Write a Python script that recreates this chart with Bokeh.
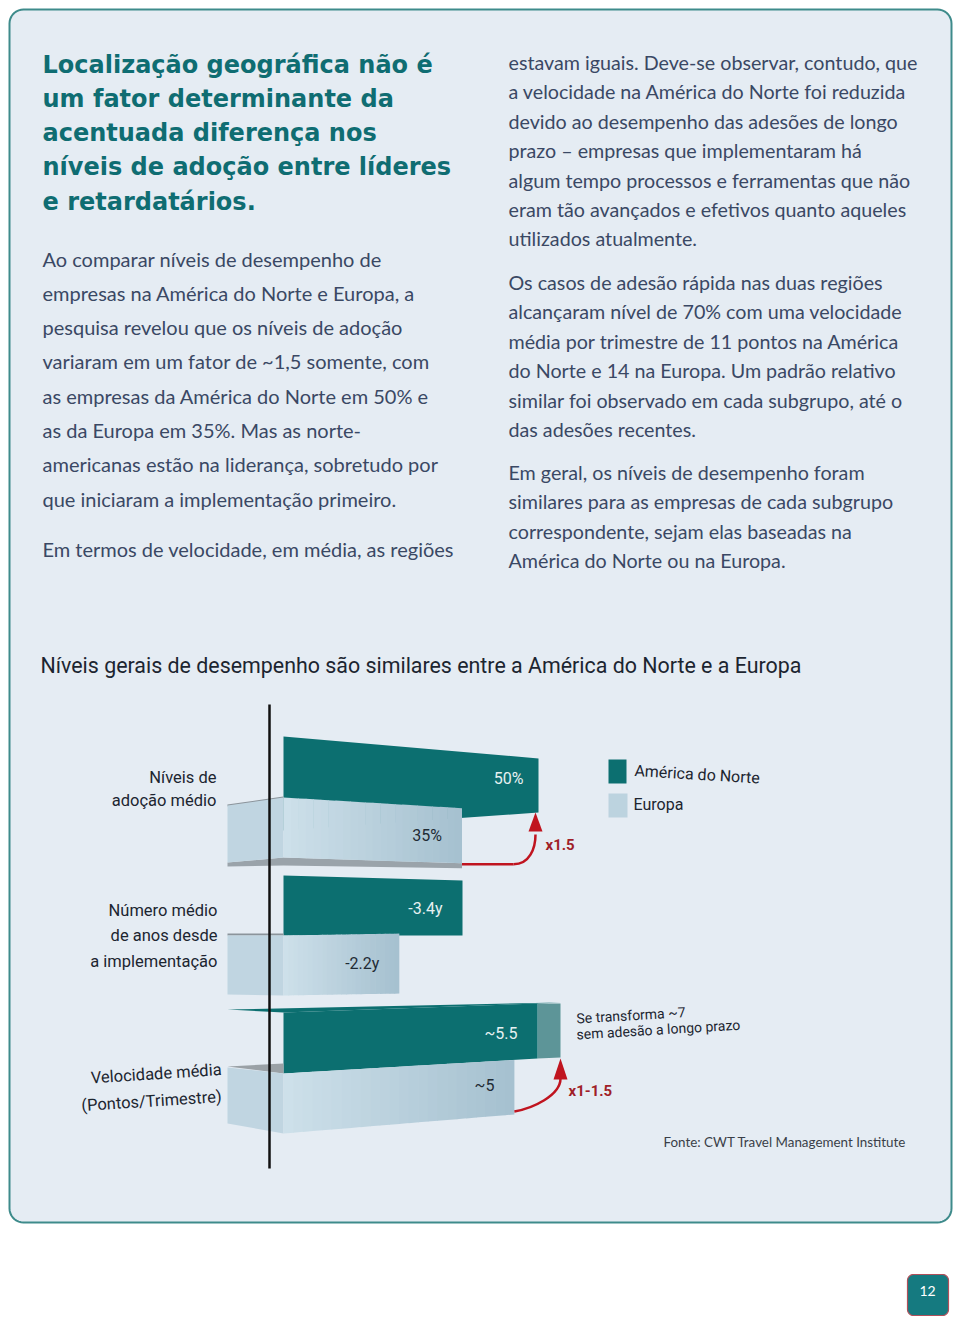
import numpy as np
from bokeh.plotting import figure
from bokeh.models import ColumnDataSource, Range1d
from bokeh.core.properties import value
from bokeh.embed import file_html
from bokeh.resources import INLINE

# ---------------- data ----------------
title_lines = ["Localização geográfica não é", "um fator determinante da",
               "acentuada diferença nos", "níveis de adoção entre líderes",
               "e retardatários."]
left_lines = ["Ao comparar níveis de desempenho de",
              "empresas na América do Norte e Europa, a",
              "pesquisa revelou que os níveis de adoção",
              "variaram em um fator de ~1,5 somente, com",
              "as empresas da América do Norte em 50% e",
              "as da Europa em 35%. Mas as norte-",
              "americanas estão na liderança, sobretudo por",
              "que iniciaram a implementação primeiro.",
              "Em termos de velocidade, em média, as regiões"]
right_lines = ["estavam iguais. Deve-se observar, contudo, que",
               "a velocidade na América do Norte foi reduzida",
               "devido ao desempenho das adesões de longo",
               "prazo –   empresas que implementaram há",
               "algum tempo processos e ferramentas que não",
               "eram tão avançados e efetivos quanto aqueles",
               "utilizados atualmente.",
               "Os casos de adesão rápida nas duas regiões",
               "alcançaram nível de 70% com uma velocidade",
               "média por trimestre de 11 pontos na América",
               "do Norte e 14 na Europa. Um padrão relativo",
               "similar foi observado em cada subgrupo, até o",
               "das adesões recentes.",
               "Em geral, os níveis de desempenho foram",
               "similares para as empresas de cada subgrupo",
               "correspondente, sejam elas baseadas na",
               "América do Norte ou na Europa."]
chart_title = "Níveis gerais de desempenho são similares entre a América do Norte e a Europa"
categories = [["Níveis de", "adoção médio"],
              ["Número médio", "de anos desde", "a implementação"],
              ["Velocidade média", "(Pontos/Trimestre)"]]
na_values = [50, 3.4, 5.5]
eu_values = [35, 2.2, 5]
na_labels = ["50%", "-3.4y", "~5.5"]
eu_labels = ["35%", "-2.2y", "~5"]
ratio_labels = ["x1.5", "", "x1-1.5"]
legend_labels = ["América do Norte", "Europa"]
note_lines = ["Se transforma ~7", "sem adesão a longo prazo"]
source_text = "Fonte: CWT Travel Management Institute"
page_number = "12"

# ---------------- styles ----------------
TEAL = "#0c6f70"
TEAL_EXT = "#5d9598"
EU_SIDE = "#c0d5e1"
EU_L = np.array([0xcd, 0xe0, 0xea])
EU_R = np.array([0xa6, 0xc1, 0xd0])
SHADOW = "#9aa3aa"
RED = "#c0141f"
BODY = "#3a4864"
TITLE = "#0f6d72"
DARK = "#1c2530"

W, H = 958, 1316
p = figure(width=W, height=H, output_backend="svg", toolbar_location=None,
           x_axis_type=None, y_axis_type=None, min_border=0,
           x_range=Range1d(0, W), y_range=Range1d(H, 0))
p.outline_line_color = None
p.background_fill_color = "white"
p.border_fill_color = "white"
p.xgrid.visible = False
p.ygrid.visible = False


def rrect(x0, y0, x1, y1, r, n=10):
    xs, ys = [], []
    corners = [(x1 - r, y0 + r, -np.pi / 2, 0), (x1 - r, y1 - r, 0, np.pi / 2),
               (x0 + r, y1 - r, np.pi / 2, np.pi), (x0 + r, y0 + r, np.pi, 1.5 * np.pi)]
    for cx, cy, a0, a1 in corners:
        t = np.linspace(a0, a1, n)
        xs += list(cx + r * np.cos(t))
        ys += list(cy + r * np.sin(t))
    return xs, ys


# panel
px, py = rrect(9, 9, 951, 1222, 14)
p.patch(px, py, fill_color="#e5ecf3", line_color="#3e8b8b", line_width=2)
# page number box
bx, by = rrect(907, 1274, 948, 1315, 6)
p.patch(bx, by, fill_color="#157a80", line_color="#b0505a", line_width=1.2)


def txt(xs, ys, texts, font, size, color, align="left", style="normal", angle=0.0):
    src = ColumnDataSource(dict(x=xs, y=ys, text=texts))
    p.text(x="x", y="y", text="text", source=src, text_font=value(font),
           text_font_size=value(size), text_color=color, text_align=align,
           text_baseline="middle", text_font_style=style, angle=angle)


txt([927], [1290], [page_number], "Lato", "14px", "white", align="center")

# headline
txt([42] * len(title_lines), [64 + 34.3 * i for i in range(len(title_lines))],
    title_lines, "DejaVu Sans", "24px", TITLE, style="bold")

# left column
ly = [258 + 34.3 * i for i in range(8)] + [548]
txt([42] * len(left_lines), ly, left_lines, "Lato", "20px", BODY)

# right column
ry = [62 + 29.4 * i for i in range(7)] + [282 + 29.4 * i for i in range(6)] + \
     [472 + 29.4 * i for i in range(4)]
txt([508] * len(right_lines), ry, right_lines, "Lato", "19.7px", BODY)

# chart title
txt([40], [665], [chart_title], "Roboto", "21.4px", DARK)

# ---------------- chart ----------------
X0 = 283
SIDE_X = 227
row_len = [255, 179, 254]
# perspective lines: (y at X0, slope per px)
geo = [
    dict(na_top=(736, 0.0863), na_bot=(830, -0.0706), eu_top=(797, 0.0598),
         eu_bot=(857, 0.0326), side_top=805, side_bot=862),
    dict(na_top=(875, 0.028), na_bot=(935, 0.0), eu_top=(935, -0.0168),
         eu_bot=(995, -0.0168), side_top=935, side_bot=994),
    dict(na_top=(1012, -0.0354), na_bot=(1073, -0.059), eu_top=(1073, -0.059),
         eu_bot=(1133, -0.0827), side_top=1067, side_bot=1123),
]


def ln(l, x):
    return l[0] + l[1] * (x - X0)


for i in range(3):
    g = geo[i]
    mx = max(na_values[i], eu_values[i])
    xa = X0 + row_len[i] * na_values[i] / mx
    xe = X0 + row_len[i] * eu_values[i] / mx

    # North America bar
    if i == 2:
        ext = 23
        p.patch([SIDE_X, xa + ext, xa, X0], [1009, 1002, ln(g["na_top"], xa), ln(g["na_top"], X0)],
                fill_color=TEAL, line_color=None)
        p.patch([xa, xa + ext, xa + ext, xa],
                [ln(g["na_top"], xa), 1003, 1057, ln(g["na_bot"], xa)],
                fill_color=TEAL_EXT, line_color=None)
    p.patch([X0, xa, xa, X0],
            [ln(g["na_top"], X0), ln(g["na_top"], xa), ln(g["na_bot"], xa), ln(g["na_bot"], X0)],
            fill_color=TEAL, line_color=None)

    # Europe: shadow / edges
    if i == 0:
        p.patch([SIDE_X, X0, xe, xe, X0, SIDE_X],
                [g["side_bot"], ln(g["eu_bot"], X0), ln(g["eu_bot"], xe),
                 ln(g["eu_bot"], xe) + 5, ln(g["eu_bot"], X0) + 8, g["side_bot"] + 4],
                fill_color=SHADOW, line_color=None)
        p.line([SIDE_X, X0], [g["side_top"], ln(g["eu_top"], X0)], line_color="#8b949b", line_width=2)
    if i == 1:
        p.line([SIDE_X, X0], [g["side_top"] - 1, ln(g["eu_top"], X0) - 1], line_color="#8b949b", line_width=2)
    if i == 2:
        p.patch([SIDE_X, X0, X0], [1066, 1063, 1073], fill_color="#9aa1a6", line_color=None)

    # Europe side
    p.patch([SIDE_X, X0, X0, SIDE_X],
            [g["side_top"], ln(g["eu_top"], X0), ln(g["eu_bot"], X0), g["side_bot"]],
            fill_color=EU_SIDE, line_color=None)
    # Europe front face with gradient strips
    n = 24
    edges = np.linspace(X0, xe, n + 1)
    sx, sy, sc = [], [], []
    for k in range(n):
        a, b = edges[k], edges[k + 1] + 0.6
        b = min(b, xe)
        sx.append([a, b, b, a])
        sy.append([ln(g["eu_top"], a), ln(g["eu_top"], b), ln(g["eu_bot"], b), ln(g["eu_bot"], a)])
        t = k / (n - 1)
        c = (EU_L * (1 - t) + EU_R * t).astype(int)
        sc.append("#%02x%02x%02x" % tuple(c))
    p.patches(sx, sy, fill_color=sc, line_color=None)

    # value labels
    txt([xa - 15 if i == 0 else xa - 20], [(ln(g["na_top"], xa) + ln(g["na_bot"], xa)) / 2 - (7 if i == 0 else 0) + (2 if i == 2 else 0)],
        [na_labels[i]], "Roboto", "16px", "#e6f1f2", align="right")
    txt([xe - 20], [(ln(g["eu_top"], xe) + ln(g["eu_bot"], xe)) / 2 + (-2 if i == 2 else 0)],
        [eu_labels[i]], "Roboto", "16px", "#1f2b35", align="right")

    # arrows
    if i == 0:
        ax = xa - 3
        yb = ln(g["eu_bot"], xe) + 1
        p.line([xe, ax - 22], [yb, yb], line_color=RED, line_width=2.5)
        p.bezier(x0=[ax - 22], y0=[yb], x1=[ax], y1=[834], cx0=[ax - 6], cy0=[yb],
                 cx1=[ax], cy1=[848], line_color=RED, line_width=2.5)
        p.patch([ax, ax - 7, ax + 7], [812, 831, 831], fill_color=RED, line_color=None)
        txt([ax + 10], [844], [ratio_labels[i]], "Roboto", "15px", "#a01e28", style="bold")
    if i == 2:
        ax = xa + 23
        y0 = ln(g["eu_bot"], xe) - 3
        p.bezier(x0=[xe], y0=[y0], x1=[ax], y1=[1078], cx0=[xe + 18], cy0=[y0 - 3],
                 cx1=[ax], cy1=[1095], line_color=RED, line_width=2.5)
        p.patch([ax, ax - 7, ax + 7], [1058, 1079, 1079], fill_color=RED, line_color=None)
        txt([ax + 8], [1090], [ratio_labels[i]], "Roboto", "15px", "#a01e28", style="bold")

# category labels
CAT_FONT = "Roboto"
txt([216, 216], [777, 800], categories[0], CAT_FONT, "16.5px", DARK, align="right")
txt([217, 217, 217], [910, 935, 961], categories[1], CAT_FONT, "16.5px", DARK, align="right")
txt([221, 221], [1069, 1096], categories[2], CAT_FONT, "16.5px", DARK, align="right", angle=0.065)

# vertical axis line
p.line([269, 269], [704, 1168], line_color="#111111", line_width=2.5)

# legend
p.quad(left=[608], right=[626], top=[759], bottom=[783], fill_color=TEAL, line_color=None)
p.quad(left=[608], right=[627], top=[793], bottom=[817], fill_color="#bcd3df", line_color=None)
txt([634], [770], [legend_labels[0]], "Roboto", "16px", DARK, angle=-0.06)
txt([633], [804], [legend_labels[1]], "Roboto", "16px", DARK)

# note
txt([576, 576], [1018, 1034], note_lines, "Roboto", "14px", DARK, angle=0.06)

# source
txt([663], [1141], [source_text], "Lato", "13.4px", "#3a3f48")

open("out.html", "w").write(file_html(p, INLINE))
